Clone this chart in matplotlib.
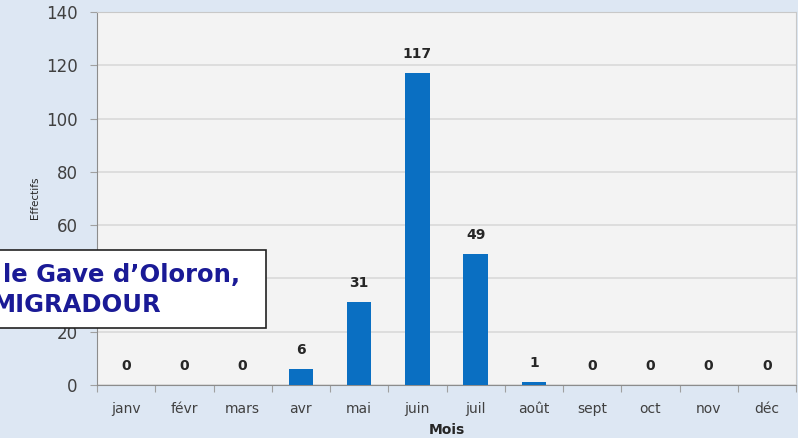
import matplotlib.pyplot as plt
import numpy as np
from matplotlib.patches import Rectangle

months = ["janv", "févr", "mars", "avr", "mai", "juin",
          "juil", "août", "sept", "oct", "nov", "déc"]
counts = [0, 0, 0, 6, 31, 117, 49, 1, 0, 0, 0, 0]
y_ticks = [0, 20, 40, 60, 80, 100, 120, 140]

bar_color = "#0a6fc2"
bg_color = "#dde7f3"
plot_color = "#f3f3f3"


def main() -> None:
    fig = plt.figure(figsize=(7.98, 4.38), dpi=100, facecolor=bg_color)
    ax = fig.add_axes([97 / 798, 53 / 438, 699 / 798, 373 / 438])
    ax.set_facecolor(plot_color)

    x = np.arange(len(months))
    ax.bar(x, counts, width=0.42, color=bar_color, zorder=3)

    for xi, v in zip(x, counts):
        ax.annotate(str(v), (xi, v), xytext=(0, 9), textcoords="offset points",
                    ha="center", va="bottom", fontsize=10, fontweight="bold",
                    color="#262626", zorder=4)

    ax.set_xlim(-0.5, len(months) - 0.5)
    ax.set_ylim(0, 140)
    ax.set_yticks(y_ticks)
    ax.set_yticklabels([str(t) for t in y_ticks], fontsize=12, color="#404040")
    ax.tick_params(axis="y", length=5, width=0.8, color="#a0a0a0", pad=9)

    ax.set_xticks(x)
    ax.set_xticklabels(months, fontsize=10, color="#404040")
    ax.set_xticks(np.arange(-0.5, len(months)), minor=True)
    ax.tick_params(axis="x", which="major", length=0, pad=12)
    ax.tick_params(axis="x", which="minor", length=5, width=0.8, color="#a0a0a0")

    ax.grid(axis="y", color="#d9d9d9", linewidth=1.2, zorder=0)
    ax.set_axisbelow(True)
    for side in ("top", "right"):
        ax.spines[side].set_color("#c8c8c8")
    for side in ("left", "bottom"):
        ax.spines[side].set_color("#8c8c8c")

    fig.text(0.5 * (97 + 796) / 798, 8 / 438, "Mois", ha="center", va="center",
             fontsize=10, fontweight="bold", color="#262626")
    fig.text(35 / 798, 240 / 438, "Effectifs", rotation=90, ha="center",
             va="center", fontsize=7.5, color="#262626")

    # overlaid caption box
    fig.patches.append(Rectangle((-0.01, 110 / 438), 274 / 798, 78 / 438,
                                 transform=fig.transFigure, facecolor="white",
                                 edgecolor="#222222", linewidth=1.2, zorder=10))
    fig.text(3 / 798, 163 / 438, "le Gave d\u2019Oloron,", ha="left", va="center",
             fontsize=17.5, fontweight="bold", color="#1a1a96", zorder=11)
    fig.text(-8 / 798, 133 / 438, "MIGRADOUR", ha="left", va="center",
             fontsize=17.5, fontweight="bold", color="#1a1a96", zorder=11)

    fig.savefig("out.png", dpi=100, facecolor=bg_color)
    plt.close(fig)


if __name__ == "__main__":
    main()
